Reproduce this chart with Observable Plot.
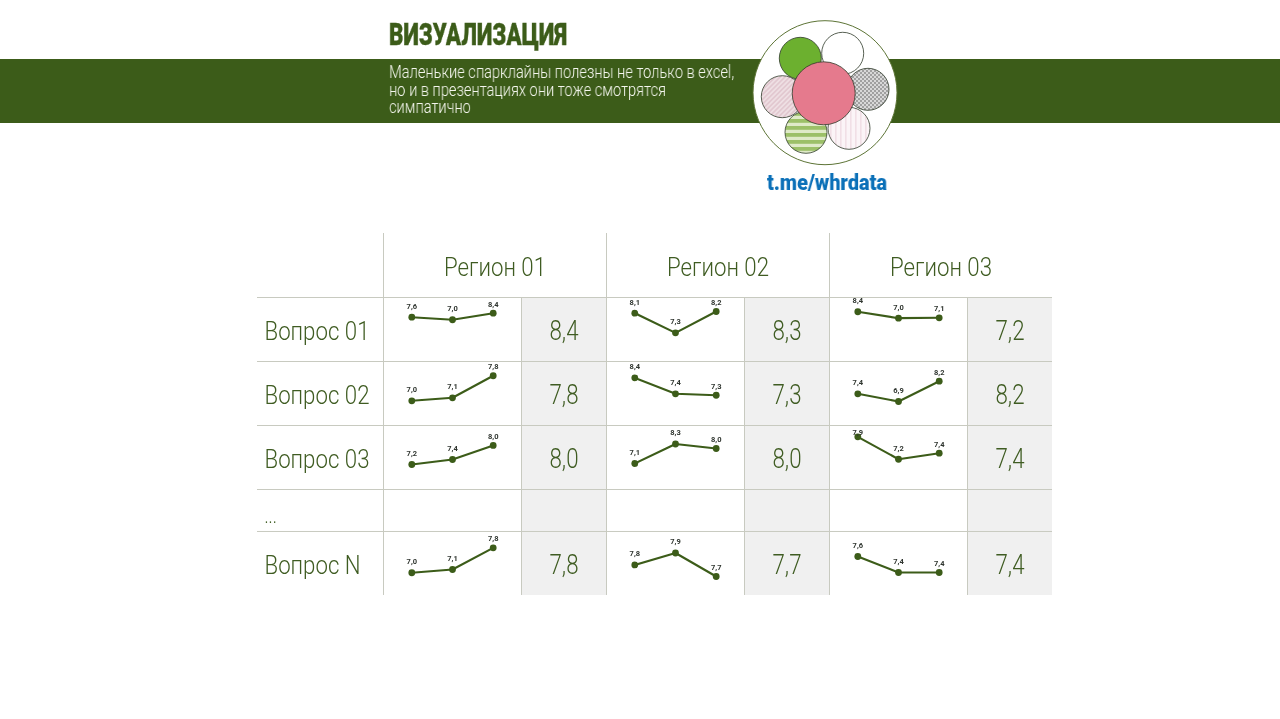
<!DOCTYPE html>
<html lang="ru"><head><meta charset="utf-8">
<script src="https://cdn.jsdelivr.net/npm/d3@7"></script>
<script src="https://cdn.jsdelivr.net/npm/@observablehq/plot@0.6"></script>
<style>
html,body{margin:0;padding:0;background:#fff;overflow:hidden}
#head{position:relative;width:1280px;height:233px;overflow:hidden;font-family:Roboto,sans-serif}
#band{position:absolute;left:0;top:59px;width:1280px;height:64px;background:#3c5c19}
#title,#sub,#link{transform-origin:0 0;white-space:pre;will-change:transform}
#title{position:absolute;left:389px;top:17px;font-size:31px;line-height:36px;font-weight:900;color:#3c5c19;-webkit-text-stroke:.4px #3c5c19}
#sub{position:absolute;left:389px;top:64px;font-size:17.5px;line-height:17.6px;font-weight:300;color:#f4f6ee}
#link{position:absolute;left:767px;top:169px;font-size:22.5px;line-height:27px;font-weight:900;color:#0b70b8}
#logo{position:absolute;left:740px;top:10px}
#chart{margin-top:-.5px}
#chart svg{display:block;will-change:transform}
</style></head><body>
<div id="head">
<div id="band"></div>
<div id="title">ВИЗУАЛИЗАЦИЯ</div>
<div id="sub">Маленькие спарклайны полезны не только в excel,
но и в презентациях они тоже смотрятся
симпатично</div>
<svg id="logo" width="170" height="165" viewBox="740 10 170 165" aria-hidden="true">
<defs>
<pattern id="chk" width="4" height="4" patternUnits="userSpaceOnUse"><rect width="4" height="4" fill="#d8d8d8"/><rect width="2" height="2" fill="#a0a0a0"/><rect x="2" y="2" width="2" height="2" fill="#a0a0a0"/></pattern>
<pattern id="pd" width="3.4" height="3.4" patternUnits="userSpaceOnUse" patternTransform="rotate(45)"><rect width="3.4" height="3.4" fill="#eedfe3"/><rect width="1.7" height="3.4" fill="#e2c8d0"/></pattern>
<pattern id="ph" width="7" height="7" patternUnits="userSpaceOnUse"><rect width="7" height="7" fill="#dfeac8"/><rect width="7" height="3.8" fill="#9cc068"/></pattern>
<pattern id="pv" width="5" height="5" patternUnits="userSpaceOnUse"><rect width="5" height="5" fill="#fbf4f7"/><rect width="1.6" height="5" fill="#f1dfe6"/></pattern>
</defs>
<circle cx="825" cy="92.7" r="72" fill="#fff" stroke="#5d7436" stroke-width="1"/>
<g stroke="#2f3a2a" stroke-width=".8">
<circle cx="800.3" cy="58.3" r="21" fill="#6cb02f"/>
<circle cx="842.7" cy="53.3" r="21" fill="#fff"/>
<circle cx="868" cy="89.3" r="21" fill="url(#chk)"/>
<circle cx="849" cy="128.3" r="21" fill="url(#pv)"/>
<circle cx="782.3" cy="96.7" r="21" fill="url(#pd)"/>
<circle cx="806" cy="132.3" r="21" fill="url(#ph)"/>
<circle cx="823.7" cy="93.3" r="31.5" fill="#e57a8d"/>
</g></svg>
<div id="link">t.me/whrdata</div>
</div>
<div id="chart"></div>
<script>
const regions = ["Регион 01", "Регион 02", "Регион 03"];
const questions = ["Вопрос 01", "Вопрос 02", "Вопрос 03", "...", "Вопрос N"];
const waves = [0, 1, 2];

// Labels printed on the sparklines, by region then question ("..." row is empty)
const labelsR1 = [[7.6, 7.0, 8.4], [7.0, 7.1, 7.8], [7.2, 7.4, 8.0], null, [7.0, 7.1, 7.8]];
const labelsR2 = [[8.1, 7.3, 8.2], [8.4, 7.4, 7.3], [7.1, 8.3, 8.0], null, [7.8, 7.9, 7.7]];
const labelsR3 = [[8.4, 7.0, 7.1], [7.4, 6.9, 8.2], [7.9, 7.2, 7.4], null, [7.6, 7.4, 7.4]];

// Drawn height of each line (0–10 within a row band)
const levelsR1 = [[6.92, 6.52, 7.55], [3.86, 4.33, 7.77], [3.91, 4.69, 6.88], null, [3.55, 4.06, 7.45]];
const levelsR2 = [[7.55, 4.48, 7.81], [7.45, 4.95, 4.73], [4.06, 7.11, 6.41], null, [4.77, 6.64, 2.97]];
const levelsR3 = [[7.77, 6.77, 6.83], [4.95, 3.75, 6.92], [8.23, 4.73, 5.67], null, [6.09, 3.59, 3.59]];

// Large score on the grey column
const scoresR1 = [8.4, 7.8, 8.0, null, 7.8];
const scoresR2 = [8.3, 7.3, 8.0, null, 7.7];
const scoresR3 = [7.2, 8.2, 7.4, null, 7.4];

const allLabels = [labelsR1, labelsR2, labelsR3];
const allLevels = [levelsR1, levelsR2, levelsR3];
const allScores = [scoresR1, scoresR2, scoresR3];

// Table layout (x in px, y in row heights)
const regionLeft = [383, 606, 829, 1052];
const tableLeft = 257, tableRight = 1052, scoreWidth = 85;
const rowSpans = [1, 1, 1, 0.656, 1];
const rowTops = rowSpans.reduce((a, s) => [...a, a[a.length - 1] + s], [1]);
const comma = (v) => v.toFixed(1).replace(".", ",");
const FONT = "Roboto,sans-serif";
const GREEN = "#3f5c22", LINE = "#c8cac0";

const spark = [], scoreCells = [], scoreBands = [];
regions.forEach((reg, c) => {
  scoreBands.push({x1: regionLeft[c + 1] - scoreWidth, x2: regionLeft[c + 1]});
  questions.forEach((q, r) => {
    if (allScores[c][r] != null) scoreCells.push({
      text: comma(allScores[c][r]),
      x: regionLeft[c + 1] - scoreWidth / 2, y: rowTops[r] + rowSpans[r] / 2 + 0.03
    });
    if (!allLevels[c][r]) return;
    waves.forEach((w) => {
      const y = rowTops[r] + rowSpans[r] - allLevels[c][r][w] / 10;
      const label = allLabels[c][r][w];
      const lift = label === 7.9 && c === 2 ? 4 : w === 2 ? 9 : 11;
      spark.push({key: reg + q, x: regionLeft[c] + 28.3 + w * 40.7, y, ly: y - lift / 64, text: comma(label)});
    });
  });
});

const chart = Plot.plot({
  width: 1280, height: 486, margin: 0,
  style: {background: "transparent"},
  x: {domain: [0, 1280], range: [0, 1280], axis: null},
  y: {domain: [0, 486 / 64], range: [0, 486], axis: null},
  marks: [
    Plot.rect(scoreBands, {x1: "x1", x2: "x2", y1: 1, y2: rowTops[rowTops.length - 1], fill: "#f0f0f0"}),
    Plot.ruleY(rowTops.slice(0, -1), {x1: tableLeft, x2: tableRight, stroke: LINE, strokeWidth: 1}),
    Plot.ruleX(regionLeft.slice(0, 3), {y1: 0, y2: rowTops[rowTops.length - 1], stroke: LINE, strokeWidth: 1}),
    Plot.ruleX(regionLeft.slice(1).map((x) => x - scoreWidth), {y1: 1, y2: rowTops[rowTops.length - 1], stroke: LINE, strokeWidth: 1}),
    Plot.text(regions, {x: (d, i) => (regionLeft[i] + regionLeft[i + 1]) / 2, y: 0.53, text: (d) => d,
      fontFamily: FONT, fontWeight: 300, fontSize: 26, fill: GREEN, className: "fit-region"}),
    Plot.text(questions, {x: tableLeft + 7, y: (d, i) => rowTops[i] + rowSpans[i] / 2 + (d === "..." ? 0.09 : 0.03), text: (d) => d,
      textAnchor: "start", fontFamily: FONT, fontWeight: 300, fontSize: (d) => (d === "..." ? 20 : 26), fill: GREEN, className: "fit-question"}),
    Plot.text(scoreCells, {x: "x", y: "y", text: "text", fontFamily: FONT, fontWeight: 300, fontSize: 28, fill: GREEN, className: "fit-score"}),
    Plot.line(spark, {x: "x", y: "y", z: "key", stroke: "#3c5c19", strokeWidth: 2.1}),
    Plot.dot(spark, {x: "x", y: "y", r: 3.4, fill: "#3c5c19"}),
    Plot.text(spark, {x: "x", y: "ly", text: "text", fontFamily: FONT, fontWeight: 700, fontSize: 7.5, fill: "#2f352f"})
  ]
});
document.getElementById("chart").append(chart);

// The reference face is condensed: narrow the real text to its measured width.
function narrow(cls, ratio) {
  d3.select(chart).selectAll("." + cls + " text").each(function () {
    this.setAttribute("textLength", this.getComputedTextLength() * ratio);
    this.setAttribute("lengthAdjust", "spacingAndGlyphs");
  });
}
function ratioFor(cls, target) {
  const first = d3.select(chart).select("." + cls + " text").node();
  return target / first.getComputedTextLength();
}
narrow("fit-region", ratioFor("fit-region", 102));
narrow("fit-question", ratioFor("fit-question", 105));
narrow("fit-score", ratioFor("fit-score", 29));
function fit(id, target) {
  const el = document.getElementById(id);
  const range = document.createRange();
  range.selectNodeContents(el);
  el.style.transform = `scaleX(${target / range.getBoundingClientRect().width})`;
}
fit("title", 178); fit("sub", 345); fit("link", 120);
</script>
</body></html>
